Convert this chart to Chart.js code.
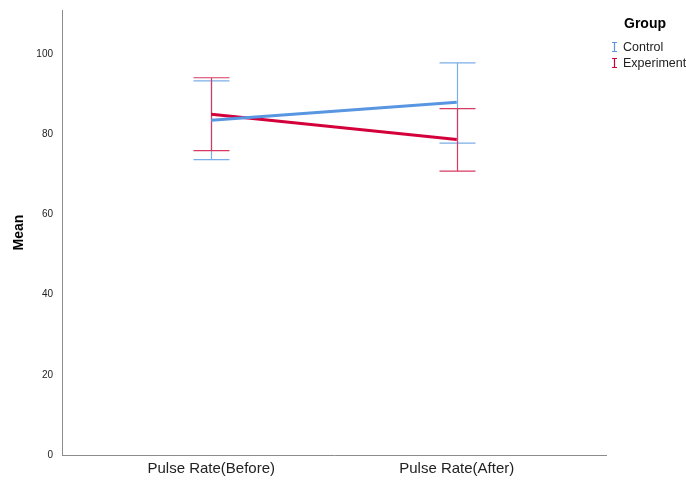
<!DOCTYPE html>
<html>
<head>
<meta charset="utf-8">
<script src="https://cdn.jsdelivr.net/npm/chart.js@4"></script>
<style>
  html, body { margin: 0; padding: 0; background: #fff; }
  #wrap { width: 686px; height: 481px; }
</style>
</head>
<body>
<div id="wrap"><canvas id="c" width="686" height="481"></canvas></div>
<script>
// Mean pulse rate per group, with error bar bounds
const categories = ['Pulse Rate(Before)', 'Pulse Rate(After)'];
const groups = ['Control', 'Experiment'];
const controlMean = [83.5, 88.0];
const controlLow = [73.7, 77.8];
const controlHigh = [93.3, 97.8];
const experimentMean = [85.0, 78.7];
const experimentLow = [75.9, 70.8];
const experimentHigh = [94.1, 86.4];
const yTicks = [0, 20, 40, 60, 80, 100];

const colors = ['#5896e2', '#d4003c'];
const barColors = ['#7aaee8', '#d63a62'];

const FONT = "'Liberation Sans', Arial, sans-serif";

function pts(arr) { return arr.map((v, i) => ({ x: i, y: v })); }

const errorBars = [
  { low: controlLow, high: controlHigh },
  { low: experimentLow, high: experimentHigh }
];

const errorBarPlugin = {
  id: 'errorBars',
  beforeDatasetsDraw(chart) {
    const ctx = chart.ctx;
    const xs = chart.scales.x, ys = chart.scales.y;
    const cap = 18;
    ctx.save();
    ctx.lineWidth = 1.2;
    errorBars.forEach((eb, d) => {
      ctx.strokeStyle = barColors[d];
      eb.low.forEach((lo, i) => {
        const x = Math.round(xs.getPixelForValue(i)) + 0.5;
        const yl = ys.getPixelForValue(lo);
        const yh = ys.getPixelForValue(eb.high[i]);
        ctx.beginPath();
        ctx.moveTo(x, yl); ctx.lineTo(x, yh);
        ctx.moveTo(x - cap, yl); ctx.lineTo(x + cap, yl);
        ctx.moveTo(x - cap, yh); ctx.lineTo(x + cap, yh);
        ctx.stroke();
      });
    });
    ctx.restore();
  }
};

const legendPlugin = {
  id: 'groupLegend',
  afterDraw(chart) {
    const ctx = chart.ctx;
    ctx.save();
    ctx.fillStyle = '#000';
    ctx.font = 'bold 14px ' + FONT;
    ctx.textBaseline = 'middle';
    ctx.textAlign = 'left';
    ctx.fillText('Group', 624, 24);
    ctx.font = '12.5px ' + FONT;
    groups.forEach((g, i) => {
      const y = 47 + i * 16;
      const x = 614;
      ctx.strokeStyle = colors[i];
      ctx.lineWidth = 1.2;
      ctx.beginPath();
      ctx.moveTo(x + 0.5, y - 4); ctx.lineTo(x + 0.5, y + 4);
      ctx.moveTo(x - 2, y - 4.5); ctx.lineTo(x + 3, y - 4.5);
      ctx.moveTo(x - 2, y + 4.5); ctx.lineTo(x + 3, y + 4.5);
      ctx.stroke();
      ctx.fillStyle = '#222';
      ctx.fillText(g, 623, y + 1);
    });
    ctx.restore();
  }
};

new Chart(document.getElementById('c'), {
  type: 'line',
  data: {
    datasets: [
      { label: groups[0], data: pts(controlMean), borderColor: colors[0], borderWidth: 3, pointRadius: 0, fill: false },
      { label: groups[1], data: pts(experimentMean), borderColor: colors[1], borderWidth: 3, pointRadius: 0, fill: false }
    ]
  },
  options: {
    responsive: false,
    animation: false,
    layout: { padding: { top: 10, right: 80, left: 0, bottom: 0 } },
    plugins: { legend: { display: false }, tooltip: { enabled: false } },
    scales: {
      x: {
        type: 'linear',
        min: -0.608,
        max: 1.608,
        grid: { display: false, drawTicks: false },
        border: { color: '#8c8c8c', width: 1 },
        afterBuildTicks(scale) { scale.ticks = categories.map((c, i) => ({ value: i })); },
        afterFit(scale) { scale.height = 26; scale.paddingLeft = 0; scale.paddingRight = 0; },
        ticks: {
          padding: 5,
          color: '#222',
          font: { family: FONT, size: 15 },
          callback: (v) => categories[v]
        }
      },
      y: {
        min: 0,
        max: 111,
        grid: { display: false, drawTicks: false },
        border: { color: '#8c8c8c', width: 1 },
        afterBuildTicks(scale) { scale.ticks = yTicks.map(v => ({ value: v })); },
        afterFit(scale) { scale.width = 62; scale.paddingTop = 0; scale.paddingBottom = 0; },
        title: {
          display: true,
          text: 'Mean',
          color: '#000',
          font: { family: FONT, size: 14, weight: 'bold' },
          padding: { top: 11, bottom: 0 }
        },
        ticks: {
          padding: 9,
          color: '#222',
          font: { family: FONT, size: 10 }
        }
      }
    }
  },
  plugins: [errorBarPlugin, legendPlugin]
});
</script>
</body>
</html>
